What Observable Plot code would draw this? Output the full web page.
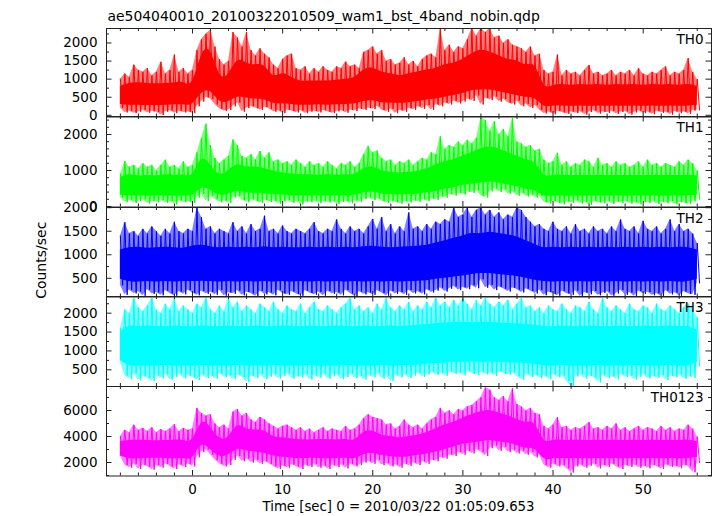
<!DOCTYPE html>
<html><head><meta charset="utf-8">
<script src="https://cdn.jsdelivr.net/npm/d3@7"></script>
<script src="https://cdn.jsdelivr.net/npm/@observablehq/plot@0.6"></script>
<style>
html,body{margin:0;padding:0;background:#fff;}
#root{position:relative;width:717px;height:516px;overflow:hidden;background:#fff;}
#root svg{position:absolute;left:0;}
</style></head><body><div id="root"></div>
<script>
const titleText = "ae504040010_20100322010509_wam1_bst_4band_nobin.qdp";
const xLabelText = "Time [sec] 0 = 2010/03/22 01:05:09.653";
const yLabelText = "Counts/sec";
const panelNames = ["TH0", "TH1", "TH2", "TH3", "TH0123"];
const xMajorTicks = [0, 10, 20, 30, 40, 50];
const xMinorTicks = [-8, -6, -4, -2, 2, 4, 6, 8, 12, 14, 16, 18, 22, 24, 26, 28, 32, 34, 36, 38, 42, 44, 46, 48, 52, 54, 56];

// spike extremes every 0.5 s from -8 to 56 (129 values); dense core band every 1 s from -8 to 56 (65 values)
const th0Hi = [
1000,1150,1050,1400,1250,1200,1300,1100,1200,1480,
1150,1250,1680,1200,1300,1150,1250,1800,2100,2250,
2350,1900,1550,1400,1500,2300,2150,1900,2300,1800,
1650,1850,1700,1600,1400,1300,1550,1650,1700,1300,
1250,1350,1150,1300,1200,1350,1250,1200,1350,1300,
1480,1350,1400,1300,1750,1800,1900,1700,1800,1500,
1550,1400,1450,1600,1400,1500,1350,1550,1650,1700,
1600,2400,1800,1950,1750,1900,1850,2100,2400,2200,
2400,2300,2400,2150,2200,2000,2100,1950,1900,1850,
1750,1900,1650,1700,1250,1150,1200,1680,1100,1250,
1150,1200,1100,1250,1390,1150,1200,1100,1150,1250,
1100,1200,1150,1250,1100,1300,1150,1100,1200,1150,
1250,1350,1100,1200,1150,1250,1580,1200,1000];
const th0Lo = [
200,80,120,60,100,150,70,110,90,10,
100,130,60,120,80,100,60,250,380,500,
450,300,180,120,150,250,350,100,200,250,
200,150,230,180,100,130,60,150,120,80,
130,60,100,120,80,140,100,60,110,130,
70,150,120,180,150,200,170,250,150,100,
180,60,140,100,200,150,250,180,280,150,
300,250,350,300,400,330,380,450,400,550,
300,480,420,520,380,450,350,300,400,250,
320,200,280,150,50,100,30,120,80,40,
100,60,110,20,90,130,50,100,70,120,
40,90,110,20,80,130,60,100,30,120,
70,90,20,110,60,100,40,130,150];
const th0CoreHi = [
800,880,900,880,870,880,900,900,950,1650,
1750,1150,1150,1500,1450,1400,1350,1100,1150,1050,
950,950,950,950,970,1000,1050,1250,1300,1200,
1150,1100,1150,1200,1250,1300,1400,1450,1550,1700,
1800,1750,1650,1550,1500,1400,1350,850,820,850,
830,850,840,850,830,850,840,850,830,850,
840,850,830,850,800];
const th0CoreLo = [
300,280,280,270,270,280,290,290,320,600,
650,400,380,500,480,450,420,330,320,300,
280,280,290,280,290,300,320,380,400,350,
340,330,350,380,420,450,500,550,600,680,
700,700,650,600,550,500,450,260,250,260,
250,260,250,260,250,260,250,260,250,260,
250,260,250,260,280];

const th1Hi = [
900,1260,1100,1150,1050,1200,1100,1150,1000,1150,
1300,1100,1150,1050,1250,1100,1150,1500,1900,2300,
1700,1350,1200,1300,1400,1860,1700,1400,1350,1450,
1300,1540,1350,1500,1250,1300,1200,1250,1150,1300,
1200,1100,1250,1150,1200,1100,1250,1150,1050,1200,
1150,1250,1100,1200,1450,1680,1500,1550,1350,1250,
1300,1150,1250,1200,1300,1150,1250,1350,1300,1500,
1450,1950,1600,1700,1650,1800,1700,1850,1750,1900,
2450,2400,2100,2370,2000,2150,1950,2460,1800,1750,
1650,1700,1550,1600,1300,1200,1250,1490,1150,1250,
1100,1200,1150,1300,1250,1100,1350,1150,1200,1100,
1250,1150,1200,1100,1150,1250,1100,1300,1150,1200,
1100,1200,1150,1100,1250,1150,1300,1200,1000];
const th1Lo = [
250,120,180,100,150,200,80,160,120,180,
100,150,60,170,120,140,100,250,350,150,
300,200,120,160,100,250,300,180,120,200,
150,100,180,130,160,80,140,180,100,150,
60,140,120,170,90,150,110,160,70,130,
150,90,170,120,200,250,180,220,150,100,
160,120,80,150,110,170,130,200,150,220,
180,280,250,350,300,380,330,420,380,450,
300,250,420,500,400,480,350,420,300,380,
280,330,250,300,120,80,150,110,60,140,
100,170,80,130,50,150,110,90,160,70,
130,100,150,80,120,60,140,100,160,70,
130,90,150,60,120,100,80,140,200];
const th1CoreHi = [
800,880,850,860,850,880,860,870,900,1300,
1150,900,1000,1150,1100,1100,1050,980,930,900,
880,880,870,880,870,880,900,1050,1100,1000,
950,930,950,980,1050,1150,1250,1300,1400,1500,
1600,1650,1600,1500,1400,1300,1200,880,860,870,
860,870,860,870,860,870,860,870,860,870,
860,870,860,870,850];
const th1CoreLo = [
320,300,300,290,300,300,290,300,320,500,
450,320,350,420,380,370,360,330,320,300,
300,300,300,300,300,300,310,380,400,350,
330,320,330,350,380,420,480,520,580,620,
650,680,650,600,550,480,430,300,290,290,
290,300,290,300,290,300,290,300,290,300,
290,300,290,300,320];

const th2Hi = [
1400,1690,1450,1500,1400,1550,1450,1600,1500,1400,
1550,1450,1700,1500,1450,1550,1500,2000,1800,1550,
1600,1450,1550,1500,1450,1690,1500,1600,1450,1650,
1500,1550,1830,1500,1550,1450,1620,1500,1450,1550,
1500,1450,1550,1690,1500,1450,1550,1500,1750,1550,
1450,1600,1500,1550,1450,1600,1760,1550,1800,1500,
1650,1450,1600,1500,1900,1550,1600,1500,1650,1550,
1700,1650,1750,1700,2000,1800,1850,2000,1800,1950,
2000,1850,1950,1800,1900,1750,1850,1800,2000,1950,
1800,1700,1600,1650,1550,1500,1700,1550,1500,1600,
1450,1650,1500,1550,1450,1600,1500,1550,1450,1600,
1500,1750,1550,1500,1600,1450,1720,1550,1500,1600,
1450,1550,1750,1500,1650,1500,1550,1450,1250];
const th2Lo = [
350,150,250,180,220,130,260,170,200,140,
240,180,130,220,160,250,190,140,230,170,
210,150,250,130,200,170,240,140,210,180,
120,230,160,200,140,250,180,150,220,170,
130,240,190,150,210,130,230,170,200,140,
250,180,120,220,160,200,150,240,190,130,
230,170,210,150,250,180,220,160,260,200,
240,300,220,280,330,250,310,270,350,290,
480,300,360,250,320,280,220,300,260,200,
280,230,180,250,140,210,170,130,230,180,
150,240,120,200,160,230,140,190,220,130,
180,250,150,200,120,230,170,210,140,180,
120,240,160,200,130,220,170,150,400];
const th2CoreHi = [
1100,1150,1160,1140,1150,1160,1150,1140,1180,1200,
1170,1150,1160,1150,1160,1150,1170,1150,1160,1150,
1150,1160,1150,1160,1150,1160,1150,1170,1180,1160,
1150,1160,1170,1180,1200,1250,1300,1350,1400,1450,
1450,1480,1450,1420,1380,1300,1220,1150,1160,1150,
1160,1150,1160,1150,1160,1150,1160,1150,1160,1150,
1160,1150,1160,1150,1100];
const th2CoreLo = [
480,430,420,430,420,430,420,430,430,440,
430,420,430,420,430,420,430,420,430,420,
430,420,430,420,430,420,430,420,430,420,
430,420,430,440,450,480,500,530,550,580,
600,600,580,560,540,500,460,430,420,430,
420,430,420,430,420,430,420,430,420,430,
420,430,420,430,480];

const th3Hi = [
1600,2100,2000,2400,2150,2050,2200,2400,2100,2000,
2250,2100,2400,2050,2200,2100,2000,2250,2150,2400,
2100,2000,2200,2050,2400,2150,2300,2050,2200,2100,
2000,2250,2150,2050,2300,2100,2000,2200,2100,2050,
2250,2000,2150,2300,2100,2050,2200,2100,2000,2150,
2250,2400,2100,2200,2050,2150,2000,2250,2100,2400,
2150,2050,2200,2100,2300,2050,2200,2100,2300,2150,
2400,2200,2300,2150,2350,2200,2400,2250,2100,2350,
2200,2400,2250,2150,2300,2200,2350,2100,2250,2400,
2150,2200,2050,2150,2000,2200,2100,2050,2250,2100,
2000,2200,2150,2050,2300,2100,2000,2400,2150,2050,
2200,2100,2000,2250,2100,2050,2200,2150,2000,2250,
2100,2050,2200,2100,2000,2150,2250,2100,1900];
const th3Lo = [
700,350,250,400,220,330,280,200,350,270,
380,240,310,400,270,350,300,230,380,280,
340,260,400,300,350,250,370,300,180,340,
280,390,250,320,380,270,340,400,260,330,
300,380,240,350,290,400,260,330,370,250,
310,390,280,340,240,360,300,410,270,340,
200,360,300,380,280,350,420,310,380,440,
360,420,340,460,390,430,350,470,400,360,
450,380,420,340,460,400,370,430,330,230,
390,310,360,280,340,250,380,300,350,200,
60,320,380,270,340,300,170,360,280,330,
250,380,300,350,240,320,380,270,330,290,
360,230,340,300,370,260,330,290,600];
const th3CoreHi = [
1500,1650,1640,1660,1650,1640,1660,1650,1640,1660,
1650,1640,1660,1650,1640,1660,1650,1640,1660,1650,
1640,1660,1650,1640,1660,1650,1640,1660,1650,1640,
1660,1650,1660,1680,1700,1720,1740,1750,1760,1750,
1760,1750,1740,1730,1720,1700,1680,1650,1640,1660,
1650,1640,1660,1650,1640,1660,1650,1640,1660,1650,
1640,1660,1650,1640,1550];
const th3CoreLo = [
750,620,600,610,600,620,600,610,600,620,
600,610,600,620,600,610,600,620,600,610,
600,620,600,610,600,620,600,610,600,620,
600,610,620,630,650,670,680,700,700,710,
700,710,700,690,680,660,640,610,600,620,
600,610,600,620,600,610,600,620,600,610,
600,620,600,610,700];

const th0123Hi = [
4000,4500,4300,4900,4500,4650,4400,4700,4300,4550,
4400,4600,4950,4400,4650,4500,4600,6200,5800,5600,
5700,5000,4700,4900,4600,5900,6100,5600,5800,5300,
5100,5500,5300,5000,4800,4600,4800,4900,4700,4500,
4700,4400,4600,4300,4500,4700,4400,4600,4500,4400,
4800,4500,4600,4900,5400,5700,5500,5400,5300,4900,
5000,4600,4800,5300,4900,4700,4900,4600,5000,5300,
5500,6200,5800,6000,5700,6100,6000,6300,6400,6700,
7000,7760,7600,7000,6800,7100,6700,7700,6500,6300,
6000,6200,5800,5700,4800,4600,4900,5500,4700,4800,
4500,4700,4600,4800,5100,4600,4700,4500,4800,4600,
5000,4500,4700,4400,4600,4800,4500,4700,4600,4400,
4800,4500,4700,4400,4600,4500,4900,4600,4000];
const th0123Lo = [
2500,1800,1600,1900,1500,1800,1700,1450,1800,1600,
1900,1700,1500,1850,1650,1900,1700,2400,2800,3000,
2600,2200,1900,1700,1800,2200,2500,2100,2300,2000,
2200,1900,2100,1900,1700,1500,1750,1600,1850,1700,
1500,1800,1650,1900,1600,1750,1500,1800,1650,1850,
1550,1900,1700,1800,2000,2100,1900,2200,1800,1950,
1700,1850,1600,1900,1750,2000,1800,2100,1900,2200,
2100,2400,2300,2600,2500,2800,2600,2900,2700,3000,
2800,2500,3100,3300,2900,3200,2800,3000,2700,2900,
2600,2800,2400,2600,1800,1600,1900,1700,1800,1550,
1230,1700,1850,1600,1750,1900,1550,1800,1650,1900,
1700,1500,1800,1650,1850,1600,1750,1550,1800,1700,
1500,1850,1650,1750,1550,1800,1700,1250,2000];
const th0123CoreHi = [
3600,3700,3720,3700,3680,3700,3720,3700,3800,5000,
4700,3900,4000,4800,4600,4500,4400,4000,3900,3800,
3750,3740,3760,3750,3740,3760,3750,4300,4400,4100,
4000,3900,4000,4100,4300,4600,4900,5100,5400,5700,
5900,6000,5800,5600,5300,5100,4900,3750,3700,3720,
3700,3720,3700,3720,3700,3720,3700,3720,3700,3720,
3700,3720,3700,3720,3600];
const th0123CoreLo = [
2500,2300,2280,2300,2320,2300,2280,2300,2400,3300,
3000,2500,2600,3000,2900,2800,2700,2500,2400,2350,
2300,2320,2300,2280,2300,2320,2300,2600,2700,2550,
2450,2400,2450,2550,2650,2800,3000,3200,3400,3500,
3600,3700,3600,3500,3300,3100,3000,2300,2280,2300,
2280,2300,2280,2300,2280,2300,2280,2300,2280,2300,
2280,2300,2280,2300,2400];

const yMajorTicks = [[0,500,1000,1500,2000],[0,1000,2000],[500,1000,1500,2000],[500,1000,1500,2000],[2000,4000,6000]];
const yMinorTicks = [[250,750,1250,1750,2250],[200,400,600,800,1200,1400,1600,1800,2200,2400],[250,750,1250,1750],[250,750,1250,1750,2250],[1000,3000,5000,7000]];
const yDomains = [[-47,2401],[-14,2500],[103,2004],[58,2442],[962,7846]];
const colors = ["#ff0000","#00ff00","#0000ff","#00ffff","#ff00ff"];

const spikeT = d3.range(129).map(i => -8 + i * 0.5);
const coreT = d3.range(65).map(i => -8 + i);
const series = [
  [th0Hi, th0Lo, th0CoreHi, th0CoreLo],
  [th1Hi, th1Lo, th1CoreHi, th1CoreLo],
  [th2Hi, th2Lo, th2CoreHi, th2CoreLo],
  [th3Hi, th3Lo, th3CoreHi, th3CoreLo],
  [th0123Hi, th0123Lo, th0123CoreHi, th0123CoreLo]
];
const tops = [27.5, 116, 206.5, 296, 386];
const bottoms = [116, 206.5, 296, 386, 475.5];

const W = 717, ML = 106, MR = 6, IW = W - ML - MR;
const FONT = "DejaVu Sans";
const ink = "#222";
const root = document.getElementById("root");

series.forEach(([hi, lo, cHi, cLo], k) => {
  const h = bottoms[k] - tops[k];
  const last = k === 4;
  const mb = last ? 40 : 0;
  const bins = spikeT.map((t, i) => ({t, lo: lo[i], hi: hi[i]}));
  // each 0.5 s bin: its maximum then its minimum, joined as one trace
  const trace = spikeT.flatMap((t, i) => [{t, v: hi[i]}, {t: t + 0.25, v: lo[i]}]);
  const core = coreT.map((t, i) => ({t, lo: cLo[i], hi: cHi[i]}));
  const marks = [
    Plot.areaY(bins, {x: "t", y1: "lo", y2: "hi", fill: colors[k], fillOpacity: 0.5, clip: true}),
    Plot.areaY(core, {x: "t", y1: "lo", y2: "hi", fill: colors[k], curve: "natural", clip: true}),
    Plot.lineY(trace, {x: "t", y: "v", stroke: colors[k], strokeWidth: 1, clip: true}),
    Plot.tickX(xMajorTicks, {x: d => d, insetTop: h - 5.5, stroke: ink}),
    Plot.tickX(xMajorTicks, {x: d => d, insetBottom: h - 5.5, stroke: ink}),
    Plot.tickX(xMinorTicks, {x: d => d, insetTop: h - 3, stroke: ink}),
    Plot.tickX(xMinorTicks, {x: d => d, insetBottom: h - 3, stroke: ink}),
    Plot.tickY(yMajorTicks[k], {y: d => d, insetRight: IW - 5.5, stroke: ink}),
    Plot.tickY(yMajorTicks[k], {y: d => d, insetLeft: IW - 5.5, stroke: ink}),
    Plot.tickY(yMinorTicks[k], {y: d => d, insetRight: IW - 3, stroke: ink}),
    Plot.tickY(yMinorTicks[k], {y: d => d, insetLeft: IW - 3, stroke: ink}),
    Plot.axisY(yMajorTicks[k], {tickSize: 0, tickPadding: 9, fontSize: 13.5, label: null, tickFormat: d => String(d)}),
    Plot.frame({stroke: ink}),
    Plot.text([panelNames[k]], {frameAnchor: "top-right", dx: -8, dy: 5.5, lineAnchor: "top", textAnchor: "end", fontSize: 13.5})
  ];
  if (k === 0) marks.push(Plot.text([titleText], {frameAnchor: "top-left", dx: 1, dy: -7.5, lineAnchor: "bottom", textAnchor: "start", fontSize: 13.9}));
  if (k === 2) marks.push(Plot.text([yLabelText], {frameAnchor: "left", dx: -65, dy: 8, rotate: -90, textAnchor: "middle", lineAnchor: "middle", fontSize: 14}));
  if (last) {
    marks.push(Plot.axisX(xMajorTicks, {anchor: "bottom", tickSize: 0, tickPadding: 8.5, fontSize: 13.5, label: null, tickFormat: d => String(d)}));
    marks.push(Plot.text([xLabelText], {frameAnchor: "bottom", dx: -10.5, dy: 31.2, lineAnchor: "middle", textAnchor: "middle", fontSize: 13.3}));
  }
  const svg = Plot.plot({
    width: W, height: h + mb,
    marginLeft: ML, marginRight: MR, marginTop: 0, marginBottom: mb,
    x: {domain: [-9.54, 57.58], axis: last ? undefined : null, label: null},
    y: {domain: yDomains[k], label: null},
    style: {fontFamily: FONT, fontSize: "13.5px", overflow: "visible", background: "none", color: "#000"},
    marks
  });
  svg.style.position = "absolute";
  svg.style.top = tops[k] + "px";
  svg.style.left = "0px";
  root.appendChild(svg);
});
</script></body></html>
